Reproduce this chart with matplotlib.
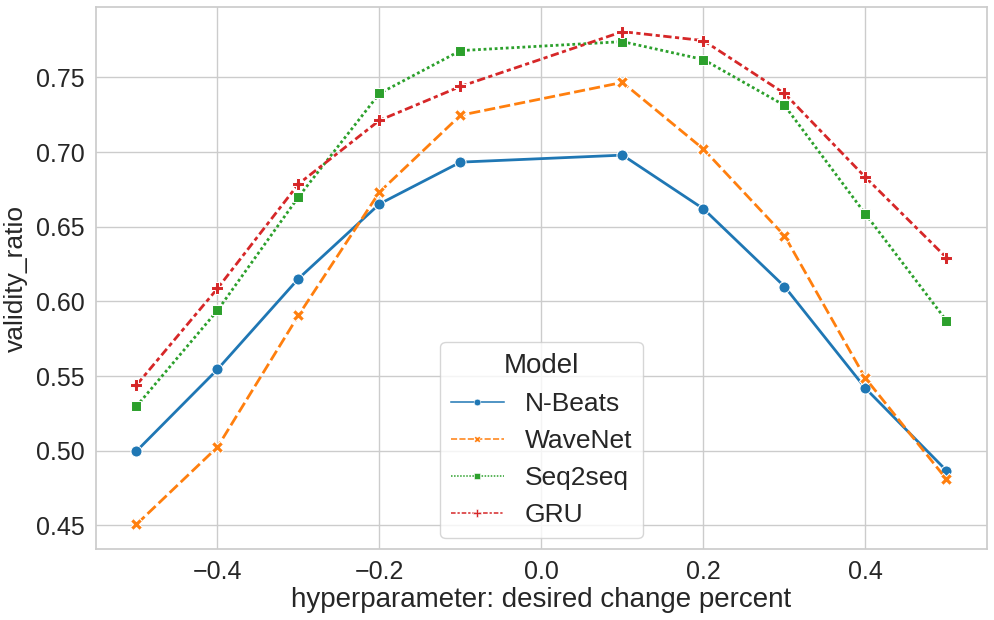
import matplotlib
matplotlib.use("Agg")
import matplotlib.pyplot as plt
from matplotlib.lines import Line2D

x = [-0.5, -0.4, -0.3, -0.2, -0.1, 0.1, 0.2, 0.3, 0.4, 0.5]
nbeats = [0.4998, 0.5545, 0.6153, 0.6653, 0.6933, 0.6980, 0.6620, 0.6100, 0.5418, 0.4867]
wavenet = [0.4507, 0.5025, 0.5907, 0.6733, 0.7247, 0.7467, 0.7020, 0.6440, 0.5485, 0.4809]
seq2seq = [0.5298, 0.5940, 0.6700, 0.7393, 0.7680, 0.7740, 0.7620, 0.7313, 0.6585, 0.5871]
gru = [0.5440, 0.6087, 0.6787, 0.7213, 0.7440, 0.7807, 0.7747, 0.7393, 0.6831, 0.6293]
names = ["N-Beats", "WaveNet", "Seq2seq", "GRU"]
series = [nbeats, wavenet, seq2seq, gru]
colors = ["#1f77b4", "#ff7f0e", "#2ca02c", "#d62728"]
markers = ["o", "X", "s", "P"]
msizes = [8, 8, 6.5, 8.5]
dashes = [None, (4, 1.5), (1, 1), (3, 1.25, 1.5, 1.25)]

plt.rcParams["font.family"] = ["Liberation Sans", "DejaVu Sans"]
fig = plt.figure(figsize=(9.95, 6.2), dpi=100)
ax = fig.add_axes([96/995, 1-549/620, (987-96)/995, (549-7)/620])
ax.set_facecolor("white")
ax.grid(True, color="#cccccc", linewidth=1)
ax.set_axisbelow(True)
for s in ax.spines.values():
    s.set_color("#cccccc")
    s.set_linewidth(1.25)

handles = []
for vals, name, c, m, ms, d in zip(series, names, colors, markers, msizes, dashes):
    ln, = ax.plot(x, vals, color=c, lw=2, marker=m, markersize=ms,
                  markeredgecolor="white", markeredgewidth=0.75)
    if d is not None:
        ln.set_dashes(d)
    h = Line2D([], [], color=c, lw=1.1, marker=m, markersize=ms * 0.6,
               markeredgecolor="white", markeredgewidth=0.4)
    if d is not None:
        h.set_dashes(d)
    handles.append(h)

ax.margins(x=0.05, y=0.05)
ax.tick_params(axis="both", labelsize=18, length=0, pad=8, colors="#262626")
ax.set_xlabel("hyperparameter: desired change percent", fontsize=20, color="#262626", labelpad=2)
ax.set_ylabel("validity_ratio", fontsize=19, color="#262626", labelpad=6)

leg = ax.legend(handles, names, title="Model", loc="lower center", fontsize=19,
                title_fontsize=20, frameon=True, handlelength=2.0, handletextpad=0.8,
                borderaxespad=0.42)
leg.get_frame().set_edgecolor("#cccccc")
for t in leg.get_texts():
    t.set_color("#262626")
leg.get_title().set_color("#262626")

fig.savefig("out.png", dpi=100)
